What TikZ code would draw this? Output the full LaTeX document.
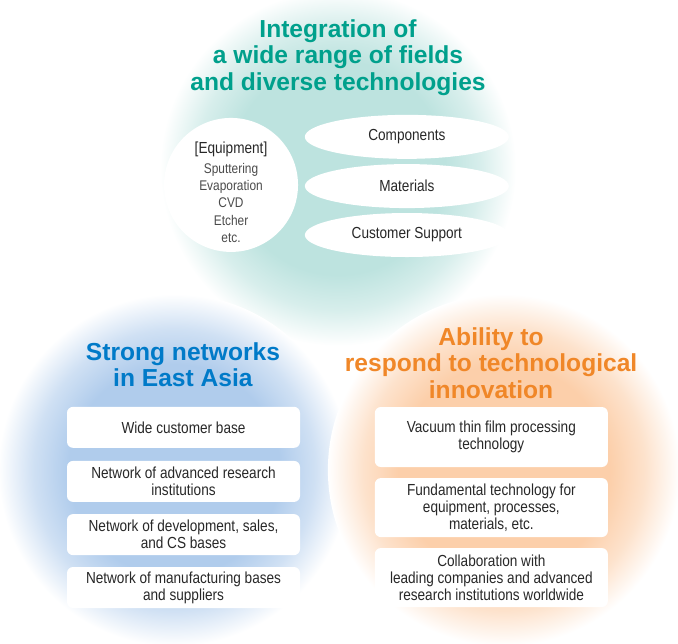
\documentclass[tikz,border=0pt]{standalone}
\usepackage{fontspec}
\setmainfont{Liberation Sans}[FakeStretch=0.85]
\newfontfamily\headfont{Liberation Sans}
\usepackage{tikz}
\usetikzlibrary{shapes.geometric}

\definecolor{tealcore}{RGB}{189,227,223}
\definecolor{bluecore}{RGB}{176,204,236}
\definecolor{orangecore}{RGB}{252,207,170}
\definecolor{tealhead}{RGB}{0,160,140}
\definecolor{bluehead}{RGB}{0,122,200}
\definecolor{orangehead}{RGB}{240,135,40}
\definecolor{bodygray}{RGB}{40,40,40}
\definecolor{listgray}{RGB}{75,75,75}

\pgfdeclareradialshading{tealglow}{\pgfpointorigin}{color(0bp)=(tealcore); color(15bp)=(tealcore); color(20bp)=(tealcore!60!white); color(25bp)=(white); color(50bp)=(white)}
\pgfdeclareradialshading{blueglow}{\pgfpointorigin}{color(0bp)=(bluecore); color(15bp)=(bluecore); color(20bp)=(bluecore!60!white); color(25bp)=(white); color(50bp)=(white)}
\pgfdeclareradialshading{orangeglow}{\pgfpointorigin}{color(0bp)=(orangecore); color(15bp)=(orangecore); color(20bp)=(orangecore!60!white); color(25bp)=(white); color(50bp)=(white)}

\begin{document}
\begin{tikzpicture}[
  headt/.style={font=\headfont\bfseries\fontsize{24.6}{26.5}\selectfont, align=center, inner sep=0pt},
  fieldell/.style={ellipse, fill=white, minimum width=204pt, minimum height=44pt, inner sep=0pt, font=\fontsize{16}{17}\selectfont, text=bodygray},
  equipc/.style={circle, fill=white, minimum size=134pt, inner sep=0pt},
  itembox/.style={fill=white, rounded corners=6pt, minimum width=233pt, inner sep=0pt, align=center, font=\fontsize{16}{17}\selectfont, text=bodygray}
]

\fill[white] (0,0) rectangle (23.83,-22.63);
\useasboundingbox (0,0) rectangle (23.83,-22.63);

\shade[shading=tealglow] (11.88,-5.90) circle (178pt);
\shade[shading=blueglow] (6.12,-16.52) circle (176pt);
\shade[shading=orangeglow] (17.71,-16.52) circle (176pt);

\node[headt, text=tealhead] (ttitle) at (11.88,-2.02) {Integration of\\a wide range of fields\\and diverse technologies};
\node[headt, text=bluehead] (btitle) at (6.43,-12.81) {Strong networks\\in East Asia};
\node[headt, text=orangehead] (otitle) at (17.26,-12.76) {Ability to\\respond to technological\\innovation};

\node[equipc] (equip) at (8.12,-6.50) {};
\node[anchor=base, inner sep=0pt, font=\fontsize{16}{17}\selectfont, text=bodygray] (equiphead) at (8.12,-5.38) {[Equipment]};
\node[align=center, inner sep=0pt, font=\fontsize{14}{17.3}\selectfont, text=listgray] (equiplist) at (8.12,-7.13) {Sputtering\\Evaporation\\CVD\\Etcher\\etc.};

\node[fieldell] (comp) at (14.30,-4.81) {Components};
\node[fieldell] (mat) at (14.30,-6.54) {Materials};
\node[fieldell] (cs) at (14.30,-8.26) {Customer Support};

\node[itembox, minimum height=41pt] (b1) at (6.45,-15.02) {Wide customer base};
\node[itembox, minimum height=41pt] (b2) at (6.45,-16.92) {Network of advanced research\\institutions};
\node[itembox, minimum height=41pt] (b3) at (6.45,-18.79) {Network of development, sales,\\and CS bases};
\node[itembox, minimum height=41pt] (b4) at (6.45,-20.65) {Network of manufacturing bases\\and suppliers};

\node[itembox, minimum height=60pt] (o1) at (17.27,-15.36) {Vacuum thin film processing\\technology};
\node[itembox, minimum height=59pt] (o2) at (17.27,-17.84) {Fundamental technology for\\equipment, processes,\\materials, etc.};
\node[itembox, minimum height=59pt] (o3) at (17.27,-20.30) {Collaboration with\\leading companies and advanced\\research institutions worldwide};

\end{tikzpicture}
\end{document}
